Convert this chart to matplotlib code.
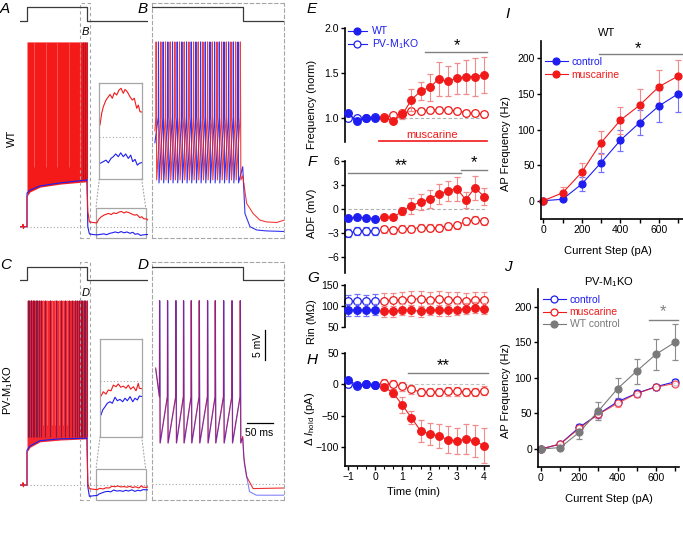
import numpy as np
import matplotlib.pyplot as plt
from matplotlib.patches import Rectangle, ConnectionPatch
from matplotlib.lines import Line2D
from matplotlib.ticker import MultipleLocator

plt.rcParams['font.family'] = ['Liberation Sans', 'DejaVu Sans']
plt.rcParams['mathtext.fontset'] = 'custom'
plt.rcParams['mathtext.rm'] = 'Liberation Sans'
plt.rcParams['mathtext.it'] = 'Liberation Sans:italic'

BLUE = '#1e1ef0'
RED = '#f01a1a'
LBLUE = '#7272ff'
LRED = '#f28c8c'
GRAY = '#808080'
DGRAY = '#7a7a7a'
BOXC = '#a6a6a6'

# ---------------- E-H: time course ----------------
t_base = [-1, -0.67, -0.33, 0]
t_musc = [0.33, 0.67, 1, 1.33, 1.67, 2, 2.33, 2.67, 3, 3.33, 3.67, 4]

freq_wt_base = [1.05, 0.97, 1.0, 1.0]
freq_wt_base_err = [0.03, 0.02, 0.02, 0.02]
freq_wt_musc = [1.0, 0.97, 1.04, 1.2, 1.3, 1.34, 1.43, 1.41, 1.44, 1.46, 1.46, 1.48]
freq_wt_musc_err = [0.02, 0.03, 0.05, 0.12, 0.1, 0.15, 0.19, 0.17, 0.17, 0.19, 0.21, 0.2]
freq_ko_base = [1.0, 1.0, 1.0, 1.01]
freq_ko_base_err = [0.02, 0.02, 0.02, 0.02]
freq_ko_musc = [1.01, 1.03, 1.05, 1.08, 1.08, 1.09, 1.09, 1.09, 1.08, 1.06, 1.05, 1.04]
freq_ko_musc_err = [0.02, 0.03, 0.04, 0.03, 0.03, 0.03, 0.03, 0.03, 0.03, 0.03, 0.03, 0.03]

adf_wt_base = [-1.1, -1.0, -1.1, -1.2]
adf_wt_base_err = [0.3, 0.3, 0.3, 0.3]
adf_wt_musc = [-1.0, -1.0, -0.2, 0.45, 0.9, 1.3, 1.9, 2.3, 2.6, 1.2, 2.7, 1.6]
adf_wt_musc_err = [0.3, 0.3, 0.5, 1.0, 1.0, 1.15, 1.25, 1.25, 1.5, 1.0, 1.5, 1.05]
adf_ko_base = [-3.0, -2.7, -2.7, -2.7]
adf_ko_base_err = [0.5, 0.45, 0.45, 0.45]
adf_ko_musc = [-2.5, -2.6, -2.4, -2.4, -2.3, -2.3, -2.3, -2.1, -2.0, -1.5, -1.3, -1.5]
adf_ko_musc_err = [0.45] * 12

rin_wt_base = [90, 91, 91, 92]
rin_wt_base_err = [14, 14, 14, 14]
rin_wt_musc = [88, 88, 91, 90, 88, 92, 90, 90, 92, 94, 96, 94]
rin_wt_musc_err = [13] * 12
rin_ko_base = [111, 112, 111, 112]
rin_ko_base_err = [16, 16, 16, 16]
rin_ko_musc = [113, 114, 115, 117, 117, 115, 117, 115, 115, 113, 115, 115]
rin_ko_musc_err = [18] * 12

ihold_wt_base = [7, -1, 0, -1]
ihold_wt_base_err = [3, 3, 3, 3]
ihold_wt_musc = [-4, -14, -33, -53, -74, -79, -82, -88, -90, -87, -90, -98]
ihold_wt_musc_err = [4, 6, 13, 10, 17, 17, 19, 22, 21, 24, 25, 28]
ihold_ko_base = [0, -2, 0, -1]
ihold_ko_base_err = [4, 4, 4, 4]
ihold_ko_musc = [1.5, 0, -3, -8, -12, -12, -12, -11, -11, -12, -12, -10]
ihold_ko_musc_err = [7] * 12

# ---------------- I-J: f-I curves ----------------
steps = [0, 100, 200, 300, 400, 500, 600, 700]
wt_ctrl = [0, 2, 23.5, 53.4, 84.8, 109.5, 133, 150]
wt_ctrl_err = [0, 1, 10, 13, 14.5, 17.5, 22, 25]
wt_musc = [0, 11, 40, 81.5, 113, 134, 160, 175]
wt_musc_err = [0, 8, 13, 16, 19, 23, 23, 23]
ko_ctrl = [0, 7, 30.5, 49, 66.5, 78.3, 87.5, 94.5]
ko_ctrl_err = [0, 3, 5, 5, 5, 5, 4, 4]
ko_musc = [0, 7, 29, 49, 64, 78, 87, 92]
ko_musc_err = [0, 3, 5, 5, 5, 5, 4, 4]

# ---------------- A-D: voltage traces (ms, mV) ----------------
step_amp = 700
cmd_long_t = [-175, 0, 0, 1500, 1500, 3025]
cmd_long_i = [0, 0, 700, 700, 0, 0]
cmd_short_t = [0, 174, 174, 254]
cmd_short_i = [700, 700, 0, 0]

pre_t = [-175, -110, -100, -90, -80, 0]
pre_v = [-70, -70, -69.6, -70.3, -70, -70]

dense_t = [0, 75, 325, 825, 1500]
a_fill_lo = [-64.9, -64.2, -63.4, -62.9, -62.5]
a_env_blue = [-64.4, -63.9, -63.2, -62.7, -62.2]
a_light = [180, 470, 760, 1040, 1320]
a_dark = [1400, 1450, 1490]
c_fill_lo = [-64.5, -63.7, -62.8, -62.5, -62.3]
c_env_blue = [-64.2, -63.5, -62.6, -62.3, -62.2]
c_dark = [25, 60, 90, 112, 150, 175, 225, 260, 300, 350, 450, 575, 725, 850,
          950, 1050, 1125, 1200, 1250, 1300, 1340, 1380, 1420, 1450, 1488]
c_light = [400, 500, 620, 690, 800, 900, 1000]
spike_top = -39.2

a_red_post_t = [1500, 1520, 1560, 1650, 1745, 1795, 1842, 1921, 1989, 2039, 2106, 2165,
                2235, 2302, 2361, 2428, 2478, 2545, 2624, 2692, 2750, 2821, 2868, 2918, 2990, 3025]
a_red_post_v = [-62.5, -67.5, -69.2, -69.3, -69.37, -68.76, -68.42, -68.07, -67.9, -67.78, -67.98,
                -67.69, -67.81, -67.55, -67.46, -67.72, -67.52, -67.64, -67.9, -68.07, -67.98,
                -68.5, -68.33, -68.68, -68.7, -68.9]
a_blue_post_t = [1500, 1520, 1560, 1650, 1745, 1842, 1921, 1989, 2068, 2135, 2205, 2282, 2352,
                 2428, 2498, 2575, 2645, 2704, 2771, 2838, 2897, 2990, 3025]
a_blue_post_v = [-62.2, -70.0, -71.2, -71.3, -71.36, -71.27, -71.19, -71.33, -71.1, -71.01, -70.87,
                 -71.01, -70.81, -71.01, -70.87, -71.1, -70.93, -71.27, -71.15, -71.45, -71.36,
                 -71.3, -71.3]
c_red_post_t = [1500, 1520, 1560, 1650, 1755, 1823, 1904, 1972, 2053, 2121, 2202, 2270, 2342,
                2419, 2500, 2568, 2640, 2717, 2798, 2866, 2896, 2990, 3025]
c_red_post_v = [-62.5, -69.8, -70.6, -70.7, -70.77, -70.55, -70.67, -70.46, -70.5, -70.21, -70.29,
                -70.15, -70.32, -70.26, -70.37, -70.21, -70.42, -70.29, -70.5, -70.12, -70.37,
                -70.4, -70.3]
c_blue_post_t = [1500, 1520, 1560, 1650, 1755, 1805, 1874, 1943, 2023, 2092, 2172, 2241, 2321,
                 2401, 2470, 2539, 2619, 2699, 2768, 2837, 2896, 2990, 3025]
c_blue_post_v = [-62.2, -70.3, -71.9, -71.8, -71.74, -71.48, -71.32, -71.14, -71.06, -71.14, -70.83,
                 -71.01, -70.94, -71.06, -70.88, -71.01, -70.8, -71.06, -70.88, -70.97, -70.77,
                 -70.8, -70.8]

b_red_spikes = [7, 16, 25, 34, 43, 52, 61, 70, 79, 88, 97, 106, 115, 124, 133, 142, 151, 160, 169]
b_blue_spikes = [11.5, 20.5, 29.5, 38.5, 47.5, 56.5, 65.5, 74.5, 83.5, 92.5, 101.5, 110.5,
                 119.5, 128.5, 137.5, 146.5, 155.5, 164.5]
b_red_tail_t = [174, 181.5, 194, 207, 220, 239, 254]
b_red_tail_v = [-61.5, -66.1, -67.8, -68.9, -69.2, -69.3, -68.9]
b_blue_tail_t = [174, 178.3, 188, 201, 220, 254]
b_blue_tail_v = [-60.0, -67.8, -70.0, -70.55, -70.7, -70.8]

d_red_spikes = [13.5, 28.8, 44.9, 59.6, 74.4, 89.8, 105.8, 120.6, 136.7, 152.8, 168.7]
d_blue_spikes = [14.0, 29.3, 45.4, 60.1, 74.9, 90.3, 106.3, 121.1, 137.2, 153.3, 169.2]
d_red_tail_t = [174, 176, 181.5, 194, 254]
d_red_tail_v = [-62.0, -65.4, -68.7, -70.7, -70.6]
d_blue_tail_t = [174, 177, 187, 200, 254]
d_blue_tail_v = [-62.3, -66.5, -71.2, -71.8, -71.8]

W, H = 683, 546
fig = plt.figure(figsize=(W / 100, H / 100), dpi=100)


def px_rect(x0, y0, x1, y1):
    return [x0 / W, 1 - y1 / H, (x1 - x0) / W, (y1 - y0) / H]


def ftext(px, py, s, **kw):
    fig.text(px / W, 1 - py / H, s, **kw)


def spike_trace(spikes, t0, v0, peak, trough, thresh, tail_t, tail_v):
    t, v = [t0], [v0]
    for s in spikes:
        t += [s, s + 0.4, s + 1.4]
        v += [thresh, peak, trough]
    return t + list(tail_t), v + list(tail_v)


def command(rect, t, i, xlim, f_low, f_high):
    ax = fig.add_axes(rect)
    ax.set_axis_off()
    ax.plot(t, i, color='#3a3a3a', lw=0.9)
    span = step_amp / (f_high - f_low)
    ax.set_ylim(-f_low * span, -f_low * span + span)
    ax.set_xlim(*xlim)


def dashed_box(ax):
    ax.set_xticks([])
    ax.set_yticks([])
    for s in ax.spines.values():
        s.set_linestyle((0, (3, 2.5)))
        s.set_color(BOXC)
        s.set_linewidth(0.8)


def long_panel(rect, ylim, fill_lo, env_blue, light, dark, fill_col, dark_col,
               red_t, red_v, blue_t, blue_v, ins_rect, ins_ylim, sbox):
    ax = fig.add_axes(rect)
    ax.set_axis_off()
    ax.set_xlim(-175, 3025)
    ax.set_ylim(*ylim)
    ax.hlines(-70, -175, 3025, color=BOXC, lw=0.8, ls=(0, (1, 2)))
    ax.fill_between(dense_t, fill_lo, spike_top, color=fill_col, lw=0)
    ax.vlines(light, -60, spike_top, color='#ff6a6a', lw=0.5)
    ax.vlines(dark, -62, spike_top, color=dark_col, lw=0.8, alpha=0.85)
    ax.plot([-175, 0, 0] + dense_t, [-70, -70, env_blue[0]] + env_blue, color=BLUE, lw=0.8)
    ax.plot(pre_t + [0], pre_v + [fill_lo[0]], color=RED, lw=0.8)
    ax.plot(blue_t, blue_v, color=BLUE, lw=0.8)
    ax.plot(red_t, red_v, color=RED, lw=0.8)
    # zoom indicator for the right-hand panel
    ax.add_patch(Rectangle((1326, ylim[0]), 254, ylim[1] - ylim[0], fill=False,
                           ls=(0, (3, 2.5)), ec=BOXC, lw=0.8, clip_on=False))
    ax.add_patch(Rectangle((sbox[0], sbox[2]), sbox[1] - sbox[0], sbox[3] - sbox[2],
                           fill=False, ec=BOXC, lw=0.9, clip_on=False))
    ins = fig.add_axes(ins_rect)
    ins.set_xlim(sbox[0], sbox[1])
    ins.set_ylim(*ins_ylim)
    ins.set_xticks([])
    ins.set_yticks([])
    for s in ins.spines.values():
        s.set_color(BOXC)
        s.set_linewidth(0.9)
    ins.axhline(-70, color=BOXC, lw=0.8, ls=(0, (1, 2)))
    ins.plot(blue_t, blue_v, color=BLUE, lw=0.8)
    ins.plot(red_t, red_v, color=RED, lw=0.8)
    for xa, xb in [(0, sbox[0]), (1, sbox[1])]:
        con = ConnectionPatch(xyA=(xa, 0), coordsA=ins.transAxes, xyB=(xb, sbox[3]),
                              coordsB=ax.transData, color=BOXC, lw=0.8, ls=(0, (1, 2)))
        fig.add_artist(con)
    return ax


# ---- A ----
rectA = px_rect(20, 2.7, 148, 238.3)
long_panel(rectA, (-71.93, -32.66), a_fill_lo, a_env_blue, a_light, a_dark, '#f41a1a', '#b0102a',
           a_red_post_t, a_red_post_v, a_blue_post_t, a_blue_post_v,
           px_rect(99.3, 82.7, 141.7, 179), (-72.17, -67.17), (1725, 2967, -71.9, -66.8))
command(rectA, cmd_long_t, cmd_long_i, (-175, 3025), 0.9236, 0.9805)

# ---- C ----
rectC = px_rect(20, 262, 148, 500)
long_panel(rectC, (-72.5, -32.8), c_fill_lo, c_env_blue, c_light, c_dark, '#f4282e', '#7d1548',
           c_red_post_t, c_red_post_v, c_blue_post_t, c_blue_post_v,
           px_rect(100, 339, 141.7, 436.7), (-72.85, -67.85), (1725, 2967, -72.45, -67.4))
command(rectC, cmd_long_t, cmd_long_i, (-175, 3025), 0.9244, 0.9803)

# ---- B ----
rectB = px_rect(152.3, 2.7, 284.3, 238.3)
axB = fig.add_axes(rectB)
dashed_box(axB)
axB.set_xlim(0, 254)
axB.set_ylim(-71.93, -32.66)
axB.axhline(-70, color=BOXC, lw=0.8, ls=(0, (1, 2)))
bt, bv = spike_trace(b_blue_spikes, 5, -56, spike_top, -62.7, -51.7, b_blue_tail_t, b_blue_tail_v)
axB.plot(bt, bv, color=BLUE, lw=0.8, alpha=0.9)
rt, rv = spike_trace(b_red_spikes, 5, -54, spike_top, -62.2, -51.7, b_red_tail_t, b_red_tail_v)
axB.plot(rt, rv, color=RED, lw=0.8, alpha=0.85)
command(rectB, cmd_short_t, cmd_short_i, (0, 254), 0.9236, 0.9805)

# ---- D ----
rectD = px_rect(152.3, 262, 284.3, 500)
axD = fig.add_axes(rectD)
dashed_box(axD)
axD.set_xlim(0, 254)
axD.set_ylim(-72.6, -32.95)
axD.axhline(-70, color=BOXC, lw=0.8, ls=(0, (1, 2)))
rt, rv = spike_trace(d_red_spikes, 6.5, -50.6, -39.4, -63.1, -55.4, d_red_tail_t, d_red_tail_v)
axD.plot(rt, rv, color=RED, lw=0.8, alpha=0.9)
bt, bv = spike_trace(d_blue_spikes, 6.5, -50.8, -39.4, -63.1, -55.4, d_blue_tail_t, d_blue_tail_v)
axD.plot(bt, bv, color=BLUE, lw=0.8, alpha=0.55)
# scale bars
axD.plot([216.7, 216.7], [-49.3, -44.3], color='k', lw=0.9)
axD.text(203, -46.8, '5 mV', rotation=90, ha='center', va='center', fontsize=7.5)
axD.plot([181.5, 231.5], [-59.7, -59.7], color='k', lw=0.9)
axD.text(206, -60.6, '50 ms', ha='center', va='top', fontsize=7.5)
command(rectD, cmd_short_t, cmd_short_i, (0, 254), 0.9244, 0.9803)

# panel letters and row labels
for px, py, s in [(5, 9, 'A'), (143, 9, 'B'), (6, 265, 'C'), (143, 265, 'D'),
                  (312, 9, 'E'), (312, 162, 'F'), (313, 278, 'G'), (312, 360, 'H'),
                  (508, 14, 'I'), (508, 267, 'J')]:
    ftext(px, py, s, fontsize=11, style='italic', ha='center', va='center')
ftext(85.7, 32, 'B', fontsize=8, style='italic', ha='center', va='center')
ftext(85.7, 293, 'D', fontsize=8, style='italic', ha='center', va='center')
ftext(11.7, 138, 'WT', fontsize=8, rotation=90, ha='center', va='center')
ftext(8.5, 390, 'PV-M$_1$KO', fontsize=8, rotation=90, ha='center', va='center')


# ---------------- E-H axes ----------------
def tc_axes(y0, y1, ylim, bottom=False):
    ax = fig.add_axes(px_rect(345, y0, 489.4, y1))
    ax.set_xlim(-1.11, 4.2)
    ax.set_ylim(*ylim)
    ax.patch.set_alpha(0)
    for s in ['top', 'right']:
        ax.spines[s].set_visible(False)
    ax.spines['left'].set_linewidth(1.2)
    if not bottom:
        ax.spines['bottom'].set_visible(False)
        ax.tick_params(axis='x', bottom=False, labelbottom=False)
    else:
        ax.spines['bottom'].set_linewidth(1.2)
    ax.tick_params(direction='out', length=3, width=1, labelsize=7.5, pad=1.5)
    ax.tick_params(which='minor', direction='out', length=2, width=0.8)
    return ax


def tc_series(ax, base, base_err, musc, musc_err, filled):
    for t, y, e, c, ec in [(t_base, base, base_err, BLUE, LBLUE), (t_musc, musc, musc_err, RED, LRED)]:
        ax.errorbar(t, y, yerr=e, fmt='-o', color=c, ecolor=ec, elinewidth=0.8, capsize=2.5,
                    capthick=0.8, ms=5.5, mfc=c if filled else 'white', mec=c, mew=0.9, lw=0.8,
                    clip_on=False, zorder=3 if filled else 2)


def sig(ax, x0, x1, y, star_x, star_y, s, color='k'):
    ax.plot([x0, x1], [y, y], color=GRAY, lw=1, clip_on=False)
    ax.text(star_x, star_y, s, ha='center', va='center', fontsize=12, color=color, clip_on=False)


def handle(color, filled, ms=5):
    return Line2D([], [], color=color, marker='o', ms=ms, mfc=color if filled else 'white',
                  mec=color, mew=0.9, lw=0.8)


axE = tc_axes(28, 142.3, (0.73, 2.0))
axE.set_yticks([1.0, 1.5, 2.0])
axE.yaxis.set_major_formatter(lambda v, p: f'{v:.1f}')
axE.hlines(1.0, -1, 4.1, color='#b0b0b0', lw=0.8, ls=(0, (3, 2)))
tc_series(axE, freq_ko_base, freq_ko_base_err, freq_ko_musc, freq_ko_musc_err, False)
tc_series(axE, freq_wt_base, freq_wt_base_err, freq_wt_musc, freq_wt_musc_err, True)
sig(axE, 1.85, 4.1, 1.73, 3.0, 1.80, '*')
axE.plot([0.15, 4.1], [0.745, 0.745], color=RED, lw=1.2, clip_on=False)
axE.text(2.1, 0.815, 'muscarine', color=RED, ha='center', va='center', fontsize=8)
axE.set_ylabel('Frequency (norm)', fontsize=8)
axE.yaxis.set_label_coords((316.7 - 345) / 144.4, (142.3 - 104) / 114.3)
axE.legend([handle(BLUE, True), handle(BLUE, False)], ['WT', 'PV-M$_1$KO'], loc='upper left',
           bbox_to_anchor=(0.02, 1.015), frameon=False, fontsize=7.5, handlelength=1.8,
           handletextpad=0.5, labelspacing=0.1, borderpad=0, borderaxespad=0, labelcolor=BLUE)

axF = tc_axes(161.3, 273.3, (-8, 6))
axF.set_yticks([-6, -3, 0, 3, 6])
axF.hlines(0, -1, 4.1, color='#b0b0b0', lw=0.8, ls=(0, (3, 2)))
tc_series(axF, adf_ko_base, adf_ko_base_err, adf_ko_musc, adf_ko_musc_err, False)
tc_series(axF, adf_wt_base, adf_wt_base_err, adf_wt_musc, adf_wt_musc_err, True)
sig(axF, -1, 3.15, 4.55, 0.95, 5.4, '**')
sig(axF, 3.15, 4.1, 4.9, 3.65, 5.8, '*')
axF.set_ylabel('ADF (mV)', fontsize=8)
axF.yaxis.set_label_coords((316.7 - 345) / 144.4, 0.54)

axG = tc_axes(285, 327.3, (50, 150))
axG.set_yticks([50, 100, 150])
tc_series(axG, rin_ko_base, rin_ko_base_err, rin_ko_musc, rin_ko_musc_err, False)
tc_series(axG, rin_wt_base, rin_wt_base_err, rin_wt_musc, rin_wt_musc_err, True)
axG.set_ylabel('Rin (MΩ)', fontsize=8)
axG.yaxis.set_label_coords((316.7 - 345) / 144.4, 0.13)

axH = tc_axes(353, 466, (-130, 50), bottom=True)
axH.set_yticks([-100, -50, 0, 50])
axH.set_xticks([-1, 0, 1, 2, 3, 4])
axH.xaxis.set_minor_locator(MultipleLocator(1 / 3))
axH.hlines(0, -1, 4.1, color='#c0c0c0', lw=0.8, ls=(0, (3, 2)))
tc_series(axH, ihold_ko_base, ihold_ko_base_err, ihold_ko_musc, ihold_ko_musc_err, False)
tc_series(axH, ihold_wt_base, ihold_wt_base_err, ihold_wt_musc, ihold_wt_musc_err, True)
sig(axH, 1.2, 4.15, 18.5, 2.5, 30, '**')
axH.set_ylabel('Δ $\\it{I}_{\\rm{hold}}$ (pA)', fontsize=8)
axH.yaxis.set_label_coords((316.7 - 345) / 144.4, 0.42)
axH.set_xlabel('Time (min)', fontsize=8)
axH.xaxis.set_label_coords((413 - 345) / 144.4, -0.19)


# ---------------- I-J axes ----------------
def fi_axes(x0, y0, x1, y1, xlim):
    ax = fig.add_axes(px_rect(x0, y0, x1, y1))
    ax.set_xlim(*xlim)
    ax.set_ylim(-25, 225)
    for s in ['top', 'right']:
        ax.spines[s].set_visible(False)
    for s in ['left', 'bottom']:
        ax.spines[s].set_linewidth(1.2)
    ax.set_xticks([0, 200, 400, 600])
    ax.xaxis.set_minor_locator(MultipleLocator(100))
    ax.set_yticks([0, 50, 100, 150, 200])
    ax.tick_params(direction='out', length=3, width=1, labelsize=7.5, pad=1.5)
    ax.tick_params(which='minor', direction='out', length=3, width=1)
    ax.set_xlabel('Current Step (pA)', fontsize=8, labelpad=2)
    ax.set_ylabel('AP Frequency (Hz)', fontsize=8)
    return ax


def fi_series(ax, y, e, color, ecolor, filled, alpha=1.0):
    ax.errorbar(steps, y, yerr=e, fmt='-o', color=color, ecolor=ecolor, elinewidth=0.8, capsize=2.5,
                capthick=0.8, ms=5, mfc=color if filled else 'white', mec=color, mew=0.9, lw=0.8,
                alpha=alpha, clip_on=False)


axI = fi_axes(541, 40.5, 682.7, 218.5, (-12, 724))
fi_series(axI, wt_ctrl, wt_ctrl_err, BLUE, LBLUE, True)
fi_series(axI, wt_musc, wt_musc_err, RED, LRED, True)
axI.plot([290, 725], [205.6, 205.6], color=GRAY, lw=1, clip_on=False)
axI.text(490, 214, '*', ha='center', va='center', fontsize=12)
axI.set_title('WT', fontsize=8, pad=3)
axI.title.set_position(((606.7 - 541) / 141.7, 1.0))
axI.yaxis.set_label_coords(-0.21, 0.42)
axI.xaxis.set_label_coords((608 - 541) / 141.7, -0.155)
axI.legend([handle(BLUE, True), handle(RED, True)], ['control', 'muscarine'], loc='upper left',
           bbox_to_anchor=(0.028, 0.91), frameon=False, fontsize=7.5, handlelength=2.2,
           handletextpad=0.35, labelspacing=0.3, borderpad=0, borderaxespad=0,
           labelcolor=[BLUE, RED])

axJ = fi_axes(538.3, 288.9, 679, 466.8, (-14, 721))
fi_series(axJ, ko_ctrl, ko_ctrl_err, BLUE, LBLUE, False)
fi_series(axJ, ko_musc, ko_musc_err, RED, LRED, False, alpha=0.75)
fi_series(axJ, wt_ctrl, wt_ctrl_err, DGRAY, '#8c8c8c', True)
axJ.plot([565, 715], [181, 181], color=GRAY, lw=1, clip_on=False)
axJ.text(638, 193, '*', ha='center', va='center', fontsize=12, color=GRAY)
axJ.set_title('PV-M$_1$KO', fontsize=8, pad=3)
axJ.title.set_position(((609 - 538.3) / 140.7, 1.0))
axJ.yaxis.set_label_coords(-0.194, 0.43)
axJ.xaxis.set_label_coords((609 - 538.3) / 140.7, -0.155)
axJ.legend([handle(BLUE, False), handle(RED, False), handle(DGRAY, True)],
           ['control', 'muscarine', 'WT control'], loc='upper left',
           bbox_to_anchor=(0.033, 0.965), frameon=False, fontsize=7.5, handlelength=2.2,
           handletextpad=0.35, labelspacing=0.2, borderpad=0, borderaxespad=0,
           labelcolor=[BLUE, RED, DGRAY])

fig.savefig('out.png', dpi=100)
